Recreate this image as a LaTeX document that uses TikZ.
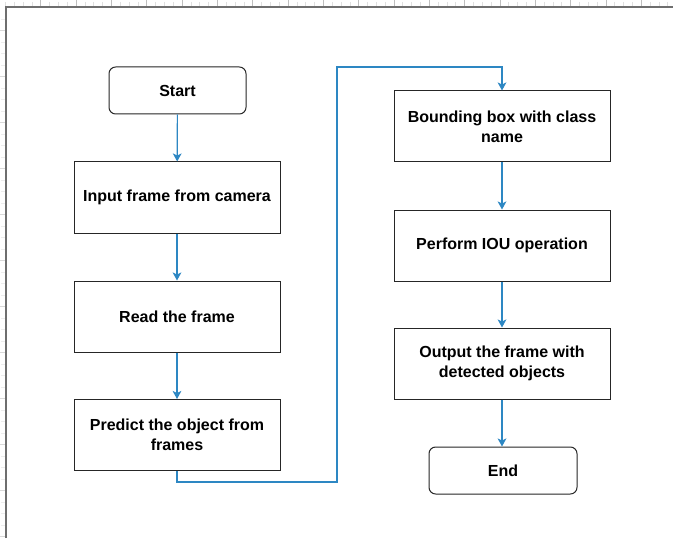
\documentclass[tikz,border=0pt]{standalone}
\usepackage{fontspec}
\setmainfont{Liberation Sans}
\usetikzlibrary{arrows.meta}

\definecolor{flowblue}{RGB}{45,135,195}
\definecolor{rimgray}{RGB}{110,110,110}

\tikzset{
  procbox/.style = {draw = black!85, line width = 0.75pt, minimum width = 154.5pt,
    minimum height = 53.25pt, align = center,
    font = \fontsize{12}{15}\selectfont\bfseries},
  widebox/.style = {procbox, minimum width = 162pt},
  termbox/.style = {procbox, rounded corners = 5pt, minimum height = 35.25pt},
  flow/.style = {draw = flowblue, line width = 0.9pt,
    -{Stealth[length = 6pt, width = 6.5pt, inset = 1.5pt]}}
}

\begin{document}
\begin{tikzpicture}[x = 0.75pt, y = -0.75pt]
    \useasboundingbox (0, 0) rectangle (673, 538);
    \fill [white] (0, 0) rectangle (673, 538);

    \foreach \t in {0, 1, ..., 75} {
      \draw [black!12, line width = 0.4pt] (5.4 + 8.83 * \t, 2) -- (5.4 + 8.83 * \t, 6);
    }
    \foreach \t in {1, 2, ..., 18} {
      \draw [black!25, line width = 0.4pt] (5.4 + 35.33 * \t, 0) -- (5.4 + 35.33 * \t, 6);
    }
    \foreach \t in {1, 2, ..., 46} {
      \draw [black!7, line width = 0.4pt] (1, 7.5 + 11.5 * \t) -- (4.5, 7.5 + 11.5 * \t);
    }
    \foreach \t in {0, 1, ..., 11} {
      \draw [black!15, line width = 0.4pt] (0, 30.7 + 46 * \t) -- (4.5, 30.7 + 46 * \t);
    }
    \draw [rimgray, line width = 1.5pt] (6, 538) -- (6, 7.5) -- (673, 7.5);

    \node [termbox, minimum width = 102.75pt] (start) at (177.5, 90.5) {Start};
    \node [procbox] (input) at (177, 197.5) {Input frame from camera};
    \node [procbox] (read) at (177, 316.5) {Read the frame};
    \node [procbox] (predict) at (177, 435) {Predict the object from\\frames};

    \node [widebox] (bbox) at (502, 126.5) {Bounding box with class\\name};
    \node [widebox] (iou) at (502, 245.5) {Perform IOU operation};
    \node [widebox] (output) at (502, 363.5) {Output the frame with\\detected objects};
    \node [termbox, minimum width = 111pt] (end) at (503, 470.5) {End};

    \draw [flow] (start) -- (input);
    \draw [flow] (input) -- (read);
    \draw [flow] (read) -- (predict);
    \draw [flow] (predict.south) -- ++(0, 11) -| (337, 67) -| (bbox.north);
    \draw [flow] (bbox) -- (iou);
    \draw [flow] (iou) -- (output);
    \draw [flow] (output.south) -- (output.south |- end.north);
  \end{tikzpicture}
\end{document}
